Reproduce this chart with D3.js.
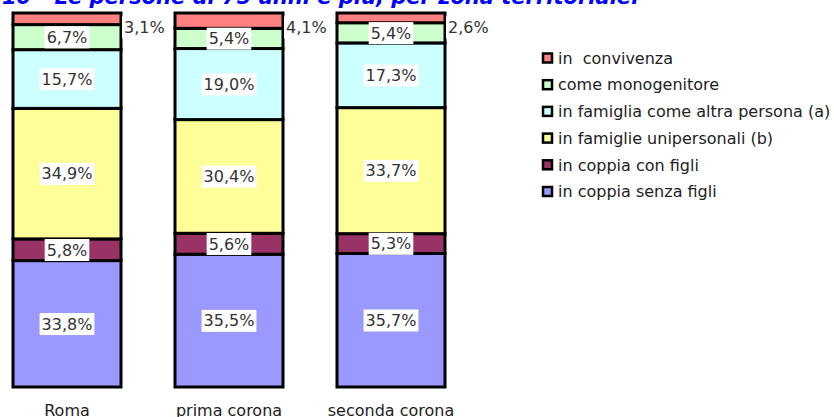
<!DOCTYPE html>
<html>
<head>
<meta charset="utf-8">
<script src="https://cdn.jsdelivr.net/npm/d3@7"></script>
<style>
  body { margin: 0; background: #fff; }
  svg { display: block; font-family: "DejaVu Sans", Verdana, sans-serif; }
</style>
</head>
<body>
<div class="chart"></div>
<script>
const w = 834, h = 417;

const zones = ['Roma', 'prima corona', 'seconda corona'];
// series from bottom to top of the stack
const series = ['in coppia senza figli', 'in coppia con figli', 'in famiglie unipersonali (b)',
  'in famiglia come altra persona (a)', 'come monogenitore', 'in  convivenza'];
const senzaFigli = [33.8, 35.5, 35.7];
const conFigli = [5.8, 5.6, 5.3];
const unipersonali = [34.9, 30.4, 33.7];
const altraPersona = [15.7, 19.0, 17.3];
const monogenitore = [6.7, 5.4, 5.4];
const convivenza = [3.1, 4.1, 2.6];
const colors = ['#9999ff', '#993366', '#ffff99', '#ccffff', '#ccffcc', '#ff8080'];

const values = [senzaFigli, conFigli, unipersonali, altraPersona, monogenitore, convivenza];

const rows = zones.map((z, i) => {
  const r = {zone: z};
  series.forEach((s, j) => r[s] = values[j][i]);
  return r;
});

const stack = d3.stack().keys(series)(rows);

const svg = d3.select('div.chart').append('svg')
  .attr('width', w).attr('height', h);

const x = d3.scaleBand().domain(zones).range([13, 445]).paddingInner(1 / 3).paddingOuter(0);
const y = d3.scaleLinear().domain([0, 100]).range([387, 13]);
const fmt = v => v.toFixed(1).replace('.', ',') + '%';

// title, cut at the top edge of the picture
svg.append('text')
  .text('10 - Le persone di 75 anni e più, per zona territoriale:')
  .attr('x', 2).attr('y', 4)
  .attr('fill', '#0000ff')
  .attr('font-size', 21)
  .attr('font-weight', 'bold')
  .attr('font-style', 'italic');

const layers = svg.selectAll('g.layer')
  .data(stack)
  .enter().append('g')
  .attr('class', 'layer')
  .attr('fill', (d, i) => colors[i]);

layers.selectAll('rect')
  .data(d => d)
  .enter().append('rect')
  .attr('x', d => x(d.data.zone))
  .attr('y', d => y(d[1]))
  .attr('width', x.bandwidth())
  .attr('height', d => y(d[0]) - y(d[1]))
  .attr('stroke', '#000')
  .attr('stroke-width', 3);

// value labels
const labels = [];
stack.forEach((layer, i) => {
  layer.forEach(d => {
    const top = i === series.length - 1;
    labels.push({
      text: fmt(d[1] - d[0]),
      cx: top ? x(d.data.zone) + x.bandwidth() + 3 : x(d.data.zone) + x.bandwidth() / 2,
      cy: top ? y(96.2) : y((d[0] + d[1]) / 2),
      anchor: top ? 'start' : 'middle'
    });
  });
});

const lg = svg.selectAll('g.lab')
  .data(labels)
  .enter().append('g')
  .attr('class', 'lab');

lg.append('text')
  .text(d => d.text)
  .attr('x', d => d.cx)
  .attr('y', d => d.cy)
  .attr('dy', '0.36em')
  .attr('text-anchor', d => d.anchor)
  .attr('font-size', 16)
  .attr('fill', '#333');

lg.each(function() {
  const g = d3.select(this);
  const b = g.select('text').node().getBBox();
  g.insert('rect', 'text')
    .attr('x', b.x - 2).attr('y', b.y - 1.5)
    .attr('width', b.width + 4).attr('height', b.height + 3)
    .attr('fill', '#fff');
});

// category labels
svg.selectAll('text.cat')
  .data(zones)
  .enter().append('text')
  .attr('class', 'cat')
  .text(d => d)
  .attr('x', d => x(d) + x.bandwidth() / 2)
  .attr('y', 416)
  .attr('text-anchor', 'middle')
  .attr('font-size', 16)
  .attr('fill', '#222');

// legend, top to bottom
const legendKeys = series.slice().reverse();
const legendColors = colors.slice().reverse();
const legend = svg.selectAll('g.legend')
  .data(legendKeys)
  .enter().append('g')
  .attr('class', 'legend')
  .attr('transform', (d, i) => 'translate(543,' + (58 + i * 26.7) + ')');

legend.append('rect')
  .attr('x', 0).attr('y', -4.5)
  .attr('width', 9).attr('height', 9)
  .attr('fill', (d, i) => legendColors[i])
  .attr('stroke', '#000')
  .attr('stroke-width', 2.5);

legend.append('text')
  .text(d => d)
  .attr('x', 15).attr('y', 0)
  .attr('dy', '0.36em')
  .attr('font-size', 16)
  .attr('fill', '#222')
  .style('white-space', 'pre');
</script>
</body>
</html>
